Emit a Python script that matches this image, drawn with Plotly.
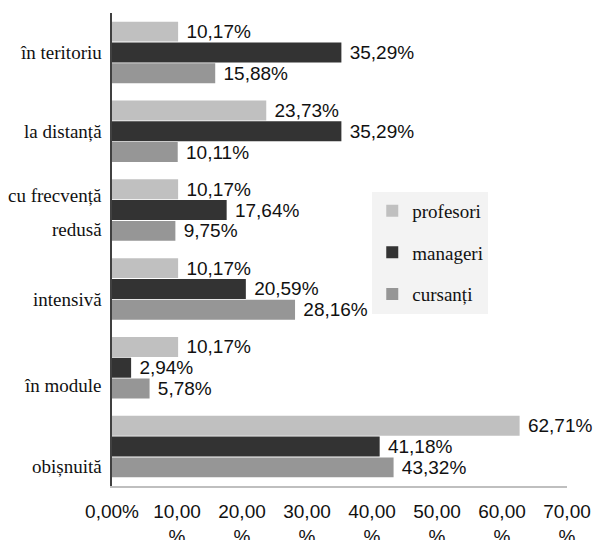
import plotly.graph_objects as go

categories = ["în teritoriu", "la distanță", "cu frecvență redusă", "intensivă", "în module", "obișnuită"]
category_lines = [["în teritoriu"], ["la distanță"], ["cu frecvență", "redusă"], ["intensivă"], ["în module"], ["obișnuită"]]
series_names = ["profesori", "manageri", "cursanți"]
profesori = [10.17, 23.73, 10.17, 10.17, 10.17, 62.71]
manageri = [35.29, 35.29, 17.64, 20.59, 2.94, 41.18]
cursanti = [15.88, 10.11, 9.75, 28.16, 5.78, 43.32]
x_tickvals = [0, 10, 20, 30, 40, 50, 60, 70]
x_ticktext = ["0,00%", "10,00<br>%", "20,00<br>%", "30,00<br>%", "40,00<br>%", "50,00<br>%", "60,00<br>%", "70,00<br>%"]

colors = ["#c0c0c0", "#333333", "#969696"]
series_values = [profesori, manageri, cursanti]


def fmt(v):
    return " " + f"{v:.2f}%".replace(".", ",")


fig = go.Figure()
for i, (name, vals) in enumerate(zip(series_names, series_values)):
    fig.add_trace(go.Bar(
        y=categories, x=vals, name=name, orientation="h",
        marker=dict(color=colors[i], line=dict(width=0)),
        text=[fmt(v) for v in vals], textposition="outside",
        constraintext="none",
        textfont=dict(family="Liberation Sans, Arial", size=19, color="#111111"),
        cliponaxis=False, legendgroup=name,
    ))

# category labels (positioned like the original, with per-label vertical offsets)
label_shifts = [[0], [0], [15, -19], [-11], [-18], [-20]]
for cat, lines, shifts in zip(categories, category_lines, label_shifts):
    for line, sh in zip(lines, shifts):
        fig.add_annotation(
            x=0, xref="paper", y=cat, yref="y", text=line, showarrow=False,
            xanchor="right", xshift=-8, yshift=sh,
            font=dict(family="Liberation Serif, Times New Roman", size=19, color="#111111"),
        )

fig.update_layout(
    width=594, height=540,
    margin=dict(l=112, r=27, t=13, b=54, autoexpand=False),
    paper_bgcolor="white", plot_bgcolor="white",
    barmode="group", bargap=0.21, bargroupgap=0.04,
    showlegend=True,
    legend=dict(
        x=0.572, y=0.622, xanchor="left", yanchor="top",
        bgcolor="#f3f3f3", traceorder="grouped", tracegroupgap=14,
        font=dict(family="Liberation Serif, Times New Roman", size=19, color="#111111"),
        itemwidth=30,
    ),
    xaxis=dict(
        range=[0, 70], tickvals=x_tickvals, ticktext=x_ticktext,
        showgrid=False, zeroline=False, automargin=False,
        showline=True, linecolor="#bfbfbf", linewidth=2,
        ticks="outside", ticklen=7, tickcolor="rgba(0,0,0,0)",
        tickfont=dict(family="Liberation Sans, Arial", size=19, color="#111111"),
    ),
    yaxis=dict(
        autorange="reversed", showticklabels=False, showgrid=False, zeroline=False,
        showline=True, linecolor="#404040", linewidth=2, ticks="", automargin=False,
    ),
)

fig.write_html("out.html")
